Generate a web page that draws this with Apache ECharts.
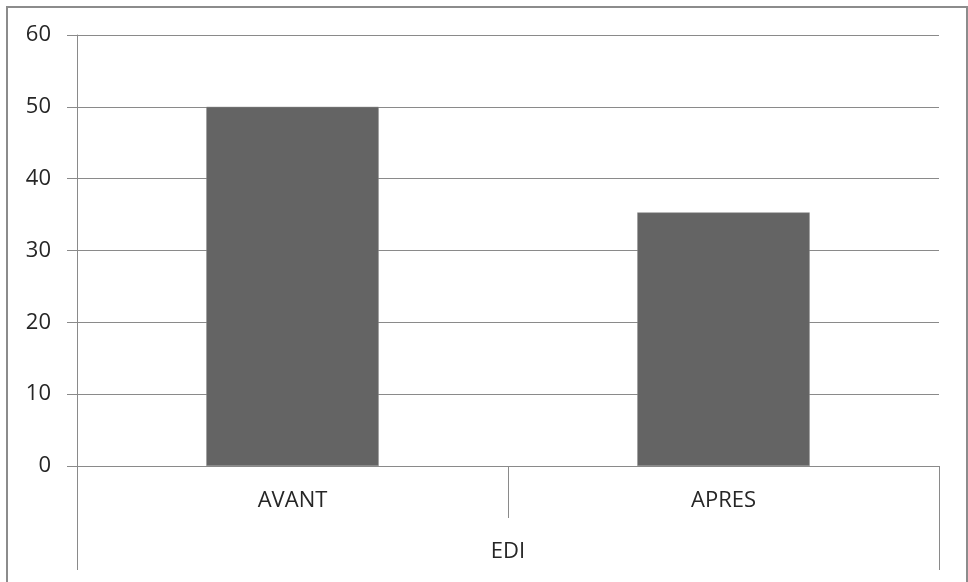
<!DOCTYPE html>
<html>
<head>
<meta charset="utf-8">
<script src="https://cdn.jsdelivr.net/npm/echarts@6/dist/echarts.min.js"></script>
<style>
html,body{margin:0;padding:0;background:#fff;}
#c{width:968px;height:582px;}
</style>
</head>
<body>
<div id="c"></div>
<script>
const categories = ['AVANT', 'APRES'];
const groupLabels = ['EDI'];
const values = [50, 35.3];
const yMin = 0, yMax = 60, yStep = 10;

const chart = echarts.init(document.getElementById('c'), null, {renderer: 'canvas'});
const lineColor = '#8a8a8a';
const textColor = '#262626';
const fontFamily = '"Open Sans", "Liberation Sans", sans-serif';
chart.setOption({
  animation: false,
  backgroundColor: '#ffffff',
  graphic: [{
    type: 'rect',
    shape: {x: 7, y: 7, width: 960, height: 590},
    style: {fill: 'none', stroke: '#8c8c8c', lineWidth: 2},
    silent: true
  }],
  grid: {left: 77, right: 29, top: 35, bottom: 116, containLabel: false},
  xAxis: [{
    type: 'category',
    data: categories,
    position: 'bottom',
    axisLine: {show: true, lineStyle: {color: lineColor, width: 1}},
    axisTick: {show: true, alignWithLabel: false, length: 52, lineStyle: {color: lineColor}},
    axisLabel: {color: textColor, fontSize: 22, fontFamily: fontFamily, margin: 24},
    splitLine: {show: false}
  }, {
    type: 'category',
    data: groupLabels,
    position: 'bottom',
    axisLine: {show: false},
    axisTick: {show: true, length: 104, lineStyle: {color: lineColor}},
    axisLabel: {color: textColor, fontSize: 22, fontFamily: fontFamily, margin: 75},
    splitLine: {show: false}
  }],
  yAxis: {
    type: 'value',
    min: yMin, max: yMax, interval: yStep,
    axisLine: {show: true, lineStyle: {color: lineColor, width: 1}},
    axisTick: {show: true, length: 10, lineStyle: {color: lineColor}},
    axisLabel: {color: textColor, fontSize: 22, fontFamily: fontFamily, margin: 26},
    splitLine: {show: true, lineStyle: {color: lineColor, width: 1}}
  },
  series: [{
    type: 'bar',
    xAxisIndex: 0,
    data: values,
    barWidth: '40%',
    itemStyle: {color: '#646464', borderColor: '#8a8a8a', borderWidth: 0.5}
  }]
});
</script>
</body>
</html>
